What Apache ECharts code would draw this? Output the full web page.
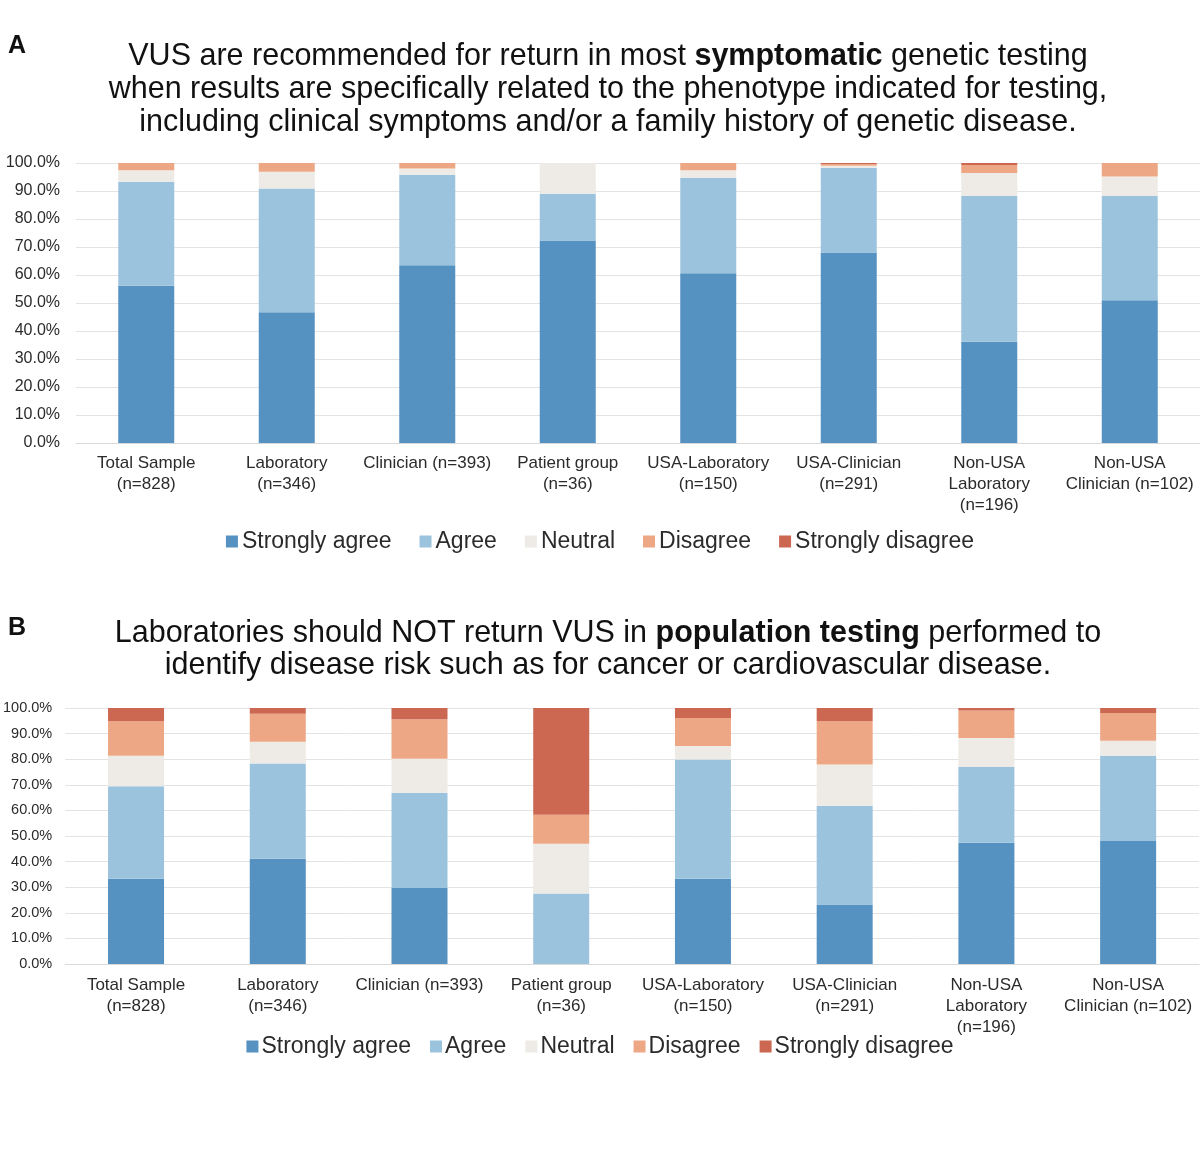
<!DOCTYPE html>
<html>
<head>
<meta charset="utf-8">
<script src="https://cdn.jsdelivr.net/npm/echarts@6/dist/echarts.min.js"></script>
<style>
html,body{margin:0;padding:0;background:#fff;}
#chart{width:1200px;height:1159px;}
</style>
</head>
<body>
<div id="chart"></div>
<script>
// ---------- DATA ----------
const categories = [
  'Total Sample\n(n=828)',
  'Laboratory\n(n=346)',
  'Clinician (n=393)',
  'Patient group\n(n=36)',
  'USA-Laboratory\n(n=150)',
  'USA-Clinician\n(n=291)',
  'Non-USA\nLaboratory\n(n=196)',
  'Non-USA\nClinician (n=102)'
];
const responses = ['Strongly agree', 'Agree', 'Neutral', 'Disagree', 'Strongly disagree'];

// Panel A: symptomatic testing (percent)
const aStronglyAgree    = [56.2, 46.7, 63.5, 72.3, 60.6, 68.0, 36.2, 51.0];
const aAgree            = [37.1, 44.2, 32.3, 16.7, 34.0, 30.3, 52.0, 37.2];
const aNeutral          = [4.1, 6.0, 2.2, 11.0, 2.8, 0.7, 8.2, 7.0];
const aDisagree         = [2.6, 3.1, 2.0, 0.0, 2.6, 0.6, 2.9, 4.8];
const aStronglyDisagree = [0.0, 0.0, 0.0, 0.0, 0.0, 0.4, 0.7, 0.0];

// Panel B: population testing (percent)
const bStronglyAgree    = [33.3, 41.1, 29.7, 0.0, 33.3, 23.2, 47.4, 48.0];
const bAgree            = [36.1, 37.2, 37.2, 27.5, 46.6, 38.6, 29.6, 33.3];
const bNeutral          = [11.9, 8.5, 13.3, 19.5, 5.3, 16.1, 11.3, 5.9];
const bDisagree         = [13.5, 11.0, 15.4, 11.3, 10.9, 16.9, 10.7, 10.8];
const bStronglyDisagree = [5.2, 2.2, 4.4, 41.7, 3.9, 5.2, 1.0, 2.0];

const titleA = ['VUS are recommended for return in most ', 'symptomatic', ' genetic testing',
  'when results are specifically related to the phenotype indicated for testing,',
  'including clinical symptoms and/or a family history of genetic disease.'];
const titleB = ['Laboratories should NOT return VUS in ', 'population testing', ' performed to',
  'identify disease risk such as for cancer or cardiovascular disease.'];

// ---------- STYLE ----------
const colors = ['#5591c1', '#9cc3de', '#eeebe6', '#eda784', '#cc6752'];
const FONT = '"Liberation Sans", Arial, sans-serif';
const TXT = '#2b2b2b';

const panelA = [aStronglyAgree, aAgree, aNeutral, aDisagree, aStronglyDisagree];
const panelB = [bStronglyAgree, bAgree, bNeutral, bDisagree, bStronglyDisagree];

const chart = echarts.init(document.getElementById('chart'), null, {renderer: 'canvas'});

function xAxisFor(gi, fs, margin) {
  return {
    type: 'category', gridIndex: gi, data: categories,
    axisTick: {show: false},
    axisLine: {lineStyle: {color: '#d9d9d9'}},
    axisLabel: {interval: 0, fontSize: fs, lineHeight: 21, color: TXT, fontFamily: FONT, margin: margin}
  };
}
function yAxisFor(gi, fs, margin) {
  return {
    type: 'value', gridIndex: gi, min: 0, max: 100, interval: 10,
    axisLine: {show: false}, axisTick: {show: false},
    splitLine: {lineStyle: {color: '#e3e3e3'}},
    axisLabel: {fontSize: fs, color: TXT, fontFamily: FONT, margin: margin,
      formatter: v => v.toFixed(1) + '%'}
  };
}

const series = [];
responses.forEach((name, i) => {
  series.push({name, type: 'bar', stack: 'A', xAxisIndex: 0, yAxisIndex: 0,
    barWidth: 56, data: panelA[i], itemStyle: {color: colors[i]}});
});
responses.forEach((name, i) => {
  series.push({name, type: 'bar', stack: 'B', xAxisIndex: 1, yAxisIndex: 1,
    barWidth: 56, data: panelB[i], itemStyle: {color: colors[i]}});
});

function richSet(fs, lh) {
  return {
    n: {fontSize: fs, fontFamily: FONT, color: '#111', fontWeight: 'normal', lineHeight: lh},
    b: {fontSize: fs, fontFamily: FONT, color: '#111', fontWeight: 'bold', lineHeight: lh}
  };
}

chart.setOption({
  animation: false,
  backgroundColor: '#fff',
  title: [
    {text: 'A', left: 3, top: 29, textStyle: {fontSize: 25, fontWeight: 'bold', fontFamily: FONT, color: '#111'}},
    {text: 'B', left: 3, top: 611, textStyle: {fontSize: 25, fontWeight: 'bold', fontFamily: FONT, color: '#111'}},
    {text: '{n|' + titleA[0] + '}{b|' + titleA[1] + '}{n|' + titleA[2] + '}\n{n|' + titleA[3] + '}\n{n|' + titleA[4] + '}',
     left: 603, top: 35, textAlign: 'center', textStyle: {rich: richSet(30.5, 33), lineHeight: 33, fontWeight: 'normal'}},
    {text: '{n|' + titleB[0] + '}{b|' + titleB[1] + '}{n|' + titleB[2] + '}\n{n|' + titleB[3] + '}',
     left: 603, top: 613, textAlign: 'center', textStyle: {rich: richSet(30.5, 32), lineHeight: 32, fontWeight: 'normal'}}
  ],
  legend: [
    {data: responses, left: 'center', top: 525, itemWidth: 12, itemHeight: 12, itemGap: 28, icon: 'rect',
     textStyle: {fontSize: 23, fontFamily: FONT, color: TXT, padding: [0, 0, 0, -1]}},
    {data: responses, left: 'center', top: 1030, itemWidth: 12, itemHeight: 12, itemGap: 19, icon: 'rect',
     textStyle: {fontSize: 23, fontFamily: FONT, color: TXT, padding: [0, 0, 0, -2]}}
  ],
  grid: [
    {left: 76, top: 163, width: 1124, height: 280},
    {left: 65, top: 708, width: 1134, height: 256}
  ],
  xAxis: [xAxisFor(0, 17, 10), xAxisFor(1, 17, 11)],
  yAxis: [yAxisFor(0, 16, 16), yAxisFor(1, 14.5, 13)],
  series
});
</script>
</body>
</html>
